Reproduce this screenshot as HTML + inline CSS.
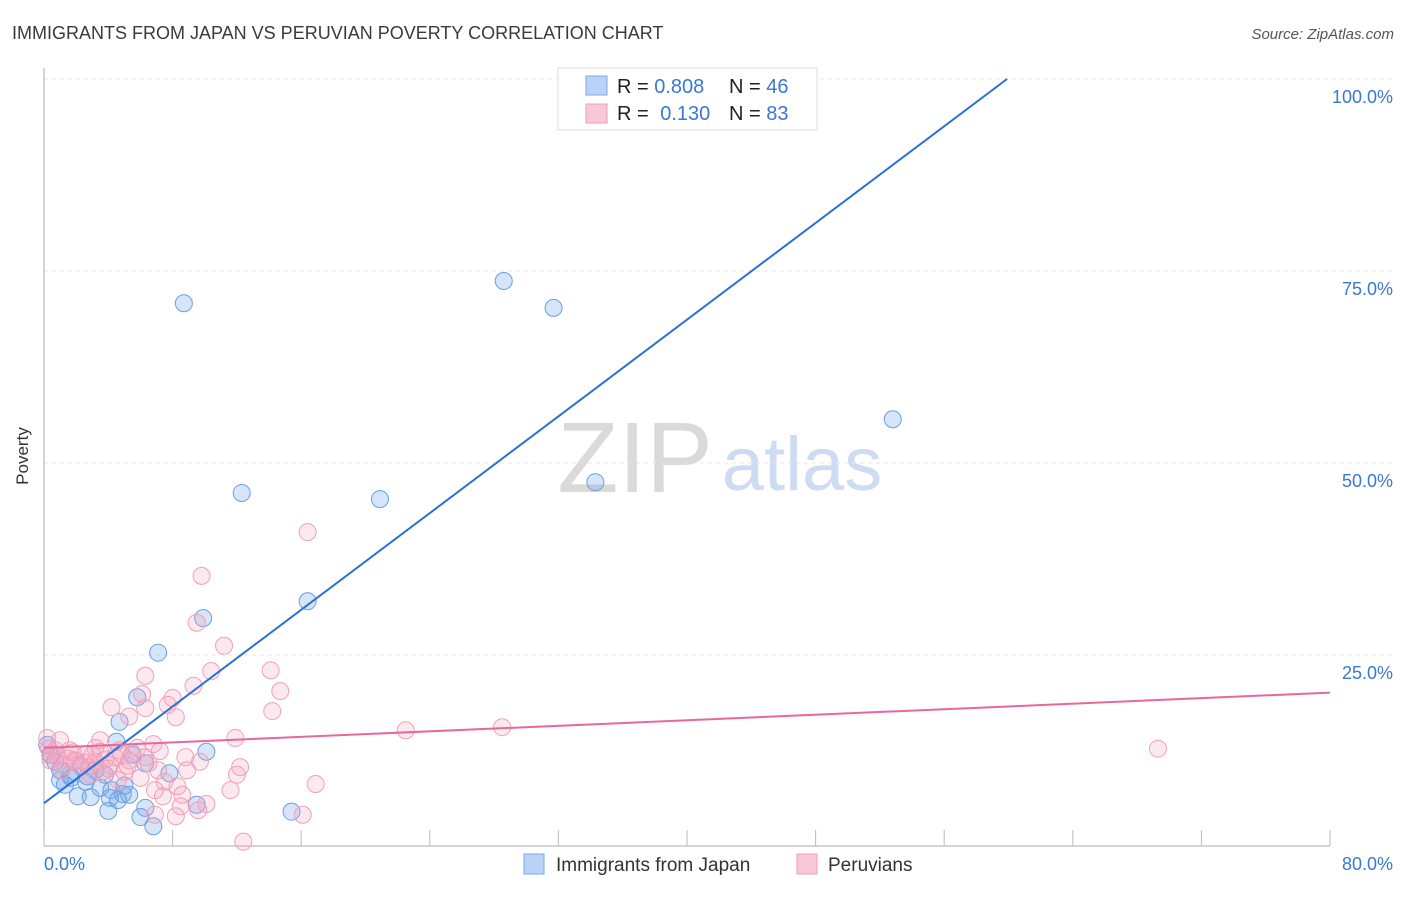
<!DOCTYPE html>
<html><head><meta charset="utf-8"><style>
body{margin:0;background:#fff;font-family:"Liberation Sans",sans-serif}
svg text{font-family:"Liberation Sans",sans-serif}
</style></head><body>
<svg id="chart" width="1406" height="892" xmlns="http://www.w3.org/2000/svg">
<text x="12" y="39" font-size="18" fill="#3a3a3a">IMMIGRANTS FROM JAPAN VS PERUVIAN POVERTY CORRELATION CHART</text>
<text x="1394" y="39" font-size="15" fill="#555" font-style="italic" text-anchor="end">Source: ZipAtlas.com</text>
<text x="28" y="456" font-size="17" fill="#333" text-anchor="middle" transform="rotate(-90 28 456)">Poverty</text>
<g><text x="635" y="492" font-size="100" fill="#dadada" font-family="Liberation Serif" text-anchor="middle">ZIP</text><text x="802" y="490" font-size="76" fill="#cddcf2" text-anchor="middle">atlas</text></g>
<g id="grid"></g><g id="axes"></g><g id="pts"></g><g id="trend"></g>
<g>
<rect x="558" y="68" width="259" height="62" fill="#fff" stroke="#ddd"/>
<rect x="586" y="76" width="21" height="19" fill="#b8d3f5" stroke="#7aaae8"/>
<rect x="586" y="104" width="21" height="19" fill="#f9c8d6" stroke="#ee9db5"/>
<text x="617" y="93" font-size="20" fill="#222">R = <tspan fill="#3a78d4">0.808</tspan></text>
<text x="729" y="93" font-size="20" fill="#222">N = <tspan fill="#3a78d4">46</tspan></text>
<text x="617" y="120" font-size="20" fill="#222">R = <tspan fill="#3a78d4" dx="6">0.130</tspan></text>
<text x="729" y="120" font-size="20" fill="#222">N = <tspan fill="#3a78d4">83</tspan></text>
</g>
<g>
<rect x="524" y="854" width="20" height="20" fill="#b8d3f5" stroke="#7aaae8"/>
<text x="556" y="871" font-size="19" fill="#333">Immigrants from Japan</text>
<rect x="797" y="854" width="20" height="20" fill="#f9c8d6" stroke="#ee9db5"/>
<text x="828" y="871" font-size="19" fill="#333">Peruvians</text>
</g>
</svg>
<script>
const yTicks=[25,50,75,100];
const yTickLabels=["25.0%","50.0%","75.0%","100.0%"];
const xMinLabel="0.0%", xMaxLabel="80.0%";
const japanX=[8.7,28.6,31.7,52.8,43.0,12.3,20.9,34.3,16.4,9.9,7.1,5.8,4.7,4.5,10.1,6.3,7.8,5.5,1.0,0.7,0.2,1.0,1.7,2.6,3.2,3.8,2.1,2.9,3.5,4.2,4.9,4.1,5.3,4.0,6.3,6.0,6.8,9.5,15.4,1.6,1.3,4.6,2.7,0.4,2.3,5.0];
const japanY=[70.8,73.7,70.2,55.7,99.9,46.1,45.3,47.5,32.0,29.8,25.3,19.5,16.3,13.7,12.4,10.9,9.6,12.0,10.0,11.1,13.3,8.7,9.0,8.5,10.0,9.4,6.6,6.5,7.7,7.4,6.9,6.4,6.8,4.7,5.1,3.9,2.7,5.5,4.6,9.4,8.1,6.1,9.2,12.0,10.5,8.0];
const peruX=[16.4,9.8,9.5,11.2,14.1,10.4,6.3,9.3,14.7,8.0,6.1,6.3,7.7,8.2,4.2,5.3,14.2,22.5,28.5,69.3,11.9,6.8,8.8,9.7,12.2,12.0,8.9,11.6,16.9,8.3,8.6,7.4,8.5,10.1,9.6,8.2,6.9,16.1,12.4,7.5,7.1,6.0,5.0,5.3,4.4,3.5,2.6,1.9,1.3,0.7,0.2,0.4,1.1,2.2,3.2,4.1,4.7,3.5,3.2,6.3,5.8,6.9,4.6,2.9,1.6,1.0,0.5,1.5,2.5,3.0,4.0,5.5,0.8,1.8,2.8,3.8,4.8,5.2,6.5,7.2,0.3,2.0,3.6];
const peruY=[41.0,35.3,29.2,26.2,23.0,22.9,22.3,21.0,20.3,19.4,19.9,18.1,18.5,16.9,18.2,17.0,17.7,15.2,15.6,12.8,14.2,13.4,11.7,11.1,10.4,9.4,10.0,7.4,8.2,7.9,6.8,6.6,5.3,5.6,4.8,4.0,4.2,4.2,0.7,8.5,10.0,9.0,9.8,11.3,11.7,12.4,12.0,11.3,10.7,12.6,14.2,11.3,10.0,10.7,11.1,10.7,12.6,13.9,12.9,11.7,12.9,7.4,8.7,9.4,12.6,13.9,12.0,11.5,11.0,12.0,10.2,12.2,11.8,12.3,10.4,11.4,12.1,10.6,10.9,12.5,12.8,11.2,9.8];
const japanIntercept=5.7, japanSlope=1.574;
const peruIntercept=12.9, peruSlope=0.09;
const X0=44,X1=1330,Y0=847,Y100=79;
const sx=v=>X0+(v/80)*(X1-X0);
const sy=v=>Y0-(v/100)*(Y0-Y100);
const NS="http://www.w3.org/2000/svg";
function mk(tag,attrs,parent){const e=document.createElementNS(NS,tag);for(const k in attrs)e.setAttribute(k,attrs[k]);parent.appendChild(e);return e;}
const grid=document.getElementById('grid'),axes=document.getElementById('axes'),pts=document.getElementById('pts'),trend=document.getElementById('trend');
yTicks.forEach((t,i)=>{
 const l=mk('line',{x1:X0,x2:1392,y1:sy(t),y2:sy(t),stroke:'#e4e4e4','stroke-dasharray':'4,4'},grid);
 
 
 const tx=mk('text',{x:1393,y:sy(t)+24,'font-size':18,fill:'#3a78d4','text-anchor':'end'},axes);
 tx.textContent=yTickLabels[i];
 
 
});
mk('line',{x1:X0,x2:X0,y1:68,y2:846,stroke:'#aaa'},axes);
mk('line',{x1:X0,x2:X1,y1:846,y2:846,stroke:'#aaa'},axes);
for(let i=0;i<=10;i++){const x=sx(i*8);const t=mk('line',{x1:x,x2:x,y1:830,y2:846,stroke:'#bbb'},axes);
 
 }
const xl=mk('text',{x:44,y:870,'font-size':18,fill:'#3a78d4'},axes);xl.textContent=xMinLabel;


const xr=mk('text',{x:1393,y:870,'font-size':18,fill:'#3a78d4','text-anchor':'end'},axes);xr.textContent=xMaxLabel;


japanX.forEach((x,i)=>{const c=mk('circle',{cx:sx(x),cy:sy(japanY[i]),r:8.5,fill:'rgba(120,170,235,0.3)',stroke:'#6a9fe2','stroke-width':1},pts);
 
 });
peruX.forEach((x,i)=>{const c=mk('circle',{cx:sx(x),cy:sy(peruY[i]),r:8.5,fill:'rgba(245,165,190,0.25)',stroke:'#f0a0ba','stroke-width':1},pts);
 
 });
const bxEnd=(100-japanIntercept)/japanSlope;
const bl=mk('line',{x1:sx(0),y1:sy(japanIntercept),x2:sx(bxEnd),y2:sy(100),stroke:'#2a70d8','stroke-width':2},trend);


const pl=mk('line',{x1:sx(0),y1:sy(peruIntercept),x2:sx(80),y2:sy(peruIntercept+peruSlope*80),stroke:'#e8689a','stroke-width':2},trend);


</script>
</body></html>
